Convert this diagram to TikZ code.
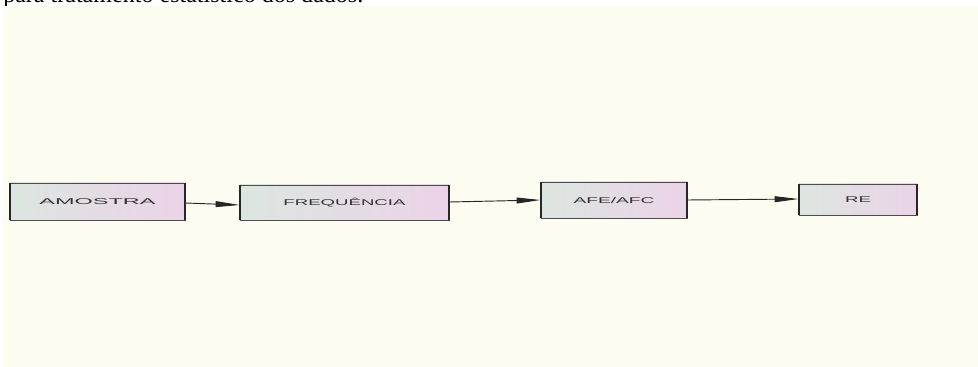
\documentclass[tikz,border=0pt]{standalone}
\usepackage{fontspec}
\setmainfont{Liberation Serif}
\setsansfont{Liberation Sans}
\usepackage{graphicx}
\usetikzlibrary{arrows.meta}
\newlength\pxu
\setlength\pxu{0.75pt}
\definecolor{cream}{HTML}{FCFDF0}
\definecolor{boxl}{HTML}{DCE6E0}
\definecolor{boxr}{HTML}{EBD3E7}
\definecolor{txtc}{HTML}{333333}
\newcommand{\lbltxt}[2]{\resizebox{#1\pxu}{\height}{\sffamily\fontsize{6.3}{7.5}\selectfont #2}}
\begin{document}
\begin{tikzpicture}[x=0.75pt,y=-0.75pt,
  boxst/.style={draw=black!70, line width=0.6pt, left color=boxl, right color=boxr,
    inner sep=0pt, text=txtc},
  sidest/.style={draw=black!85, line width=1.4pt},
  conn/.style={draw=black!85, line width=0.7pt, -{Triangle[length=18pt,width=4.4pt]}}]
\useasboundingbox (0,0) rectangle (978,367);
\clip (0,0) rectangle (978,367);
\fill[white] (0,0) rectangle (978,367);
\node[anchor=base west, inner sep=0pt, font=\rmfamily] (top) at (3,3) {\resizebox{360\pxu}{!}{para tratamento estatístico dos dados.}};
\fill[cream] (3,6) rectangle (978,367);
\node[boxst, minimum width=175\pxu, minimum height=37\pxu] (a) at (97.5,201.5) {\lbltxt{116}{AMOSTRA}};
\node[boxst, minimum width=209\pxu, minimum height=35\pxu] (b) at (344.5,202.5) {\lbltxt{122}{FREQUÊNCIA}};
\node[boxst, minimum width=146\pxu, minimum height=36\pxu] (c) at (614,200) {\lbltxt{81}{AFE/AFC}};
\node[boxst, minimum width=118\pxu, minimum height=31\pxu] (d) at (858,199.5) {\lbltxt{26}{RE}};
\foreach \n in {a,b,c,d}{
  \draw[sidest] (\n.north west) -- (\n.south west);
  \draw[sidest] (\n.north east) -- (\n.south east);
}
\draw[conn] ([yshift=-1.5\pxu]a.east) -- ([yshift=-2.5\pxu]b.west);
\draw[conn] ([yshift=0.5\pxu]b.east) -- (c.west);
\draw[conn] (c.east) -- ([yshift=0.5\pxu]d.west);
\end{tikzpicture}
\end{document}
